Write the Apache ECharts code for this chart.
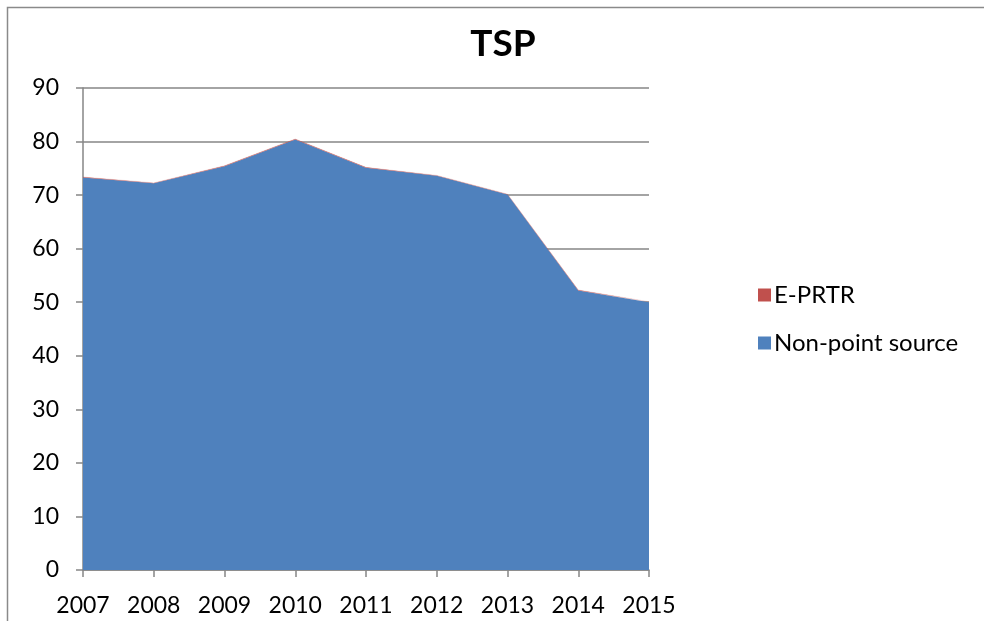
<!DOCTYPE html>
<html>
<head>
<meta charset="utf-8">
<script src="https://cdn.jsdelivr.net/npm/echarts@6/dist/echarts.min.js"></script>
<style>
html,body{margin:0;padding:0;background:#fff;}
#chart{width:984px;height:621px;}
</style>
</head>
<body>
<div id="chart"></div>
<script>
const years = ['2007','2008','2009','2010','2011','2012','2013','2014','2015'];
const nonPointSource = [73.3, 72.2, 75.4, 80.4, 75.1, 73.6, 70.1, 52.2, 50.0];
const ePRTR = [0.08, 0.08, 0.08, 0.08, 0.08, 0.08, 0.08, 0.08, 0.08];
const yTicks = [0, 10, 20, 30, 40, 50, 60, 70, 80, 90];

const chart = echarts.init(document.getElementById('chart'));
const font = 'Lato, "Open Sans", sans-serif';
chart.setOption({
  animation: false,
  backgroundColor: '#fff',
  graphic: [{
    type: 'polyline', silent: true,
    shape: {points: [[7.5, 640], [7.5, 7.5], [1000, 7.5]]},
    style: {fill: 'none', stroke: '#8a8a8a', lineWidth: 1.5}
  }],
  title: {
    text: 'TSP', left: 498, top: 21, textAlign: 'center',
    textStyle: {fontFamily: font, fontWeight: 'bold', fontSize: 37, color: '#000'}
  },
  legend: {
    orient: 'vertical', left: 753, top: 278,
    itemWidth: 13, itemHeight: 13, itemGap: 24,
    icon: 'rect',
    data: ['E-PRTR', 'Non-point source'],
    textStyle: {fontFamily: font, fontSize: 24, color: '#000', padding: [0,0,0,-2]}
  },
  grid: {left: 83, top: 88, width: 566, height: 482, containLabel: false},
  xAxis: {
    type: 'category', data: years, boundaryGap: false,
    axisLine: {lineStyle: {color: '#868686', width: 1.5}},
    axisTick: {show: true, length: 7, alignWithLabel: true, lineStyle: {color: '#868686', width: 1.5}},
    axisLabel: {fontFamily: font, fontSize: 23, color: '#000', margin: 24},
    splitLine: {show: false}
  },
  yAxis: {
    type: 'value', min: 0, max: 90, interval: 10,
    axisLine: {show: true, lineStyle: {color: '#868686', width: 1.5}},
    axisTick: {show: true, length: 7, lineStyle: {color: '#868686', width: 1.5}},
    axisLabel: {fontFamily: font, fontSize: 23, color: '#000', margin: 24,
      formatter: v => yTicks.includes(v) ? String(v) : ''},
    splitLine: {show: true, lineStyle: {color: '#868686', width: 1.5}}
  },
  series: [
    {
      name: 'Non-point source', type: 'line', stack: 'total', data: nonPointSource,
      symbol: 'none', color: '#4F81BD',
      lineStyle: {width: 0}, areaStyle: {color: '#4F81BD', opacity: 1}
    },
    {
      name: 'E-PRTR', type: 'line', stack: 'total', data: ePRTR,
      symbol: 'none', color: '#C0504D',
      lineStyle: {width: 0.3, color: '#C0504D', opacity: 0.6}, areaStyle: {color: '#C0504D', opacity: 1}
    }
  ]
});
</script>
</body>
</html>
